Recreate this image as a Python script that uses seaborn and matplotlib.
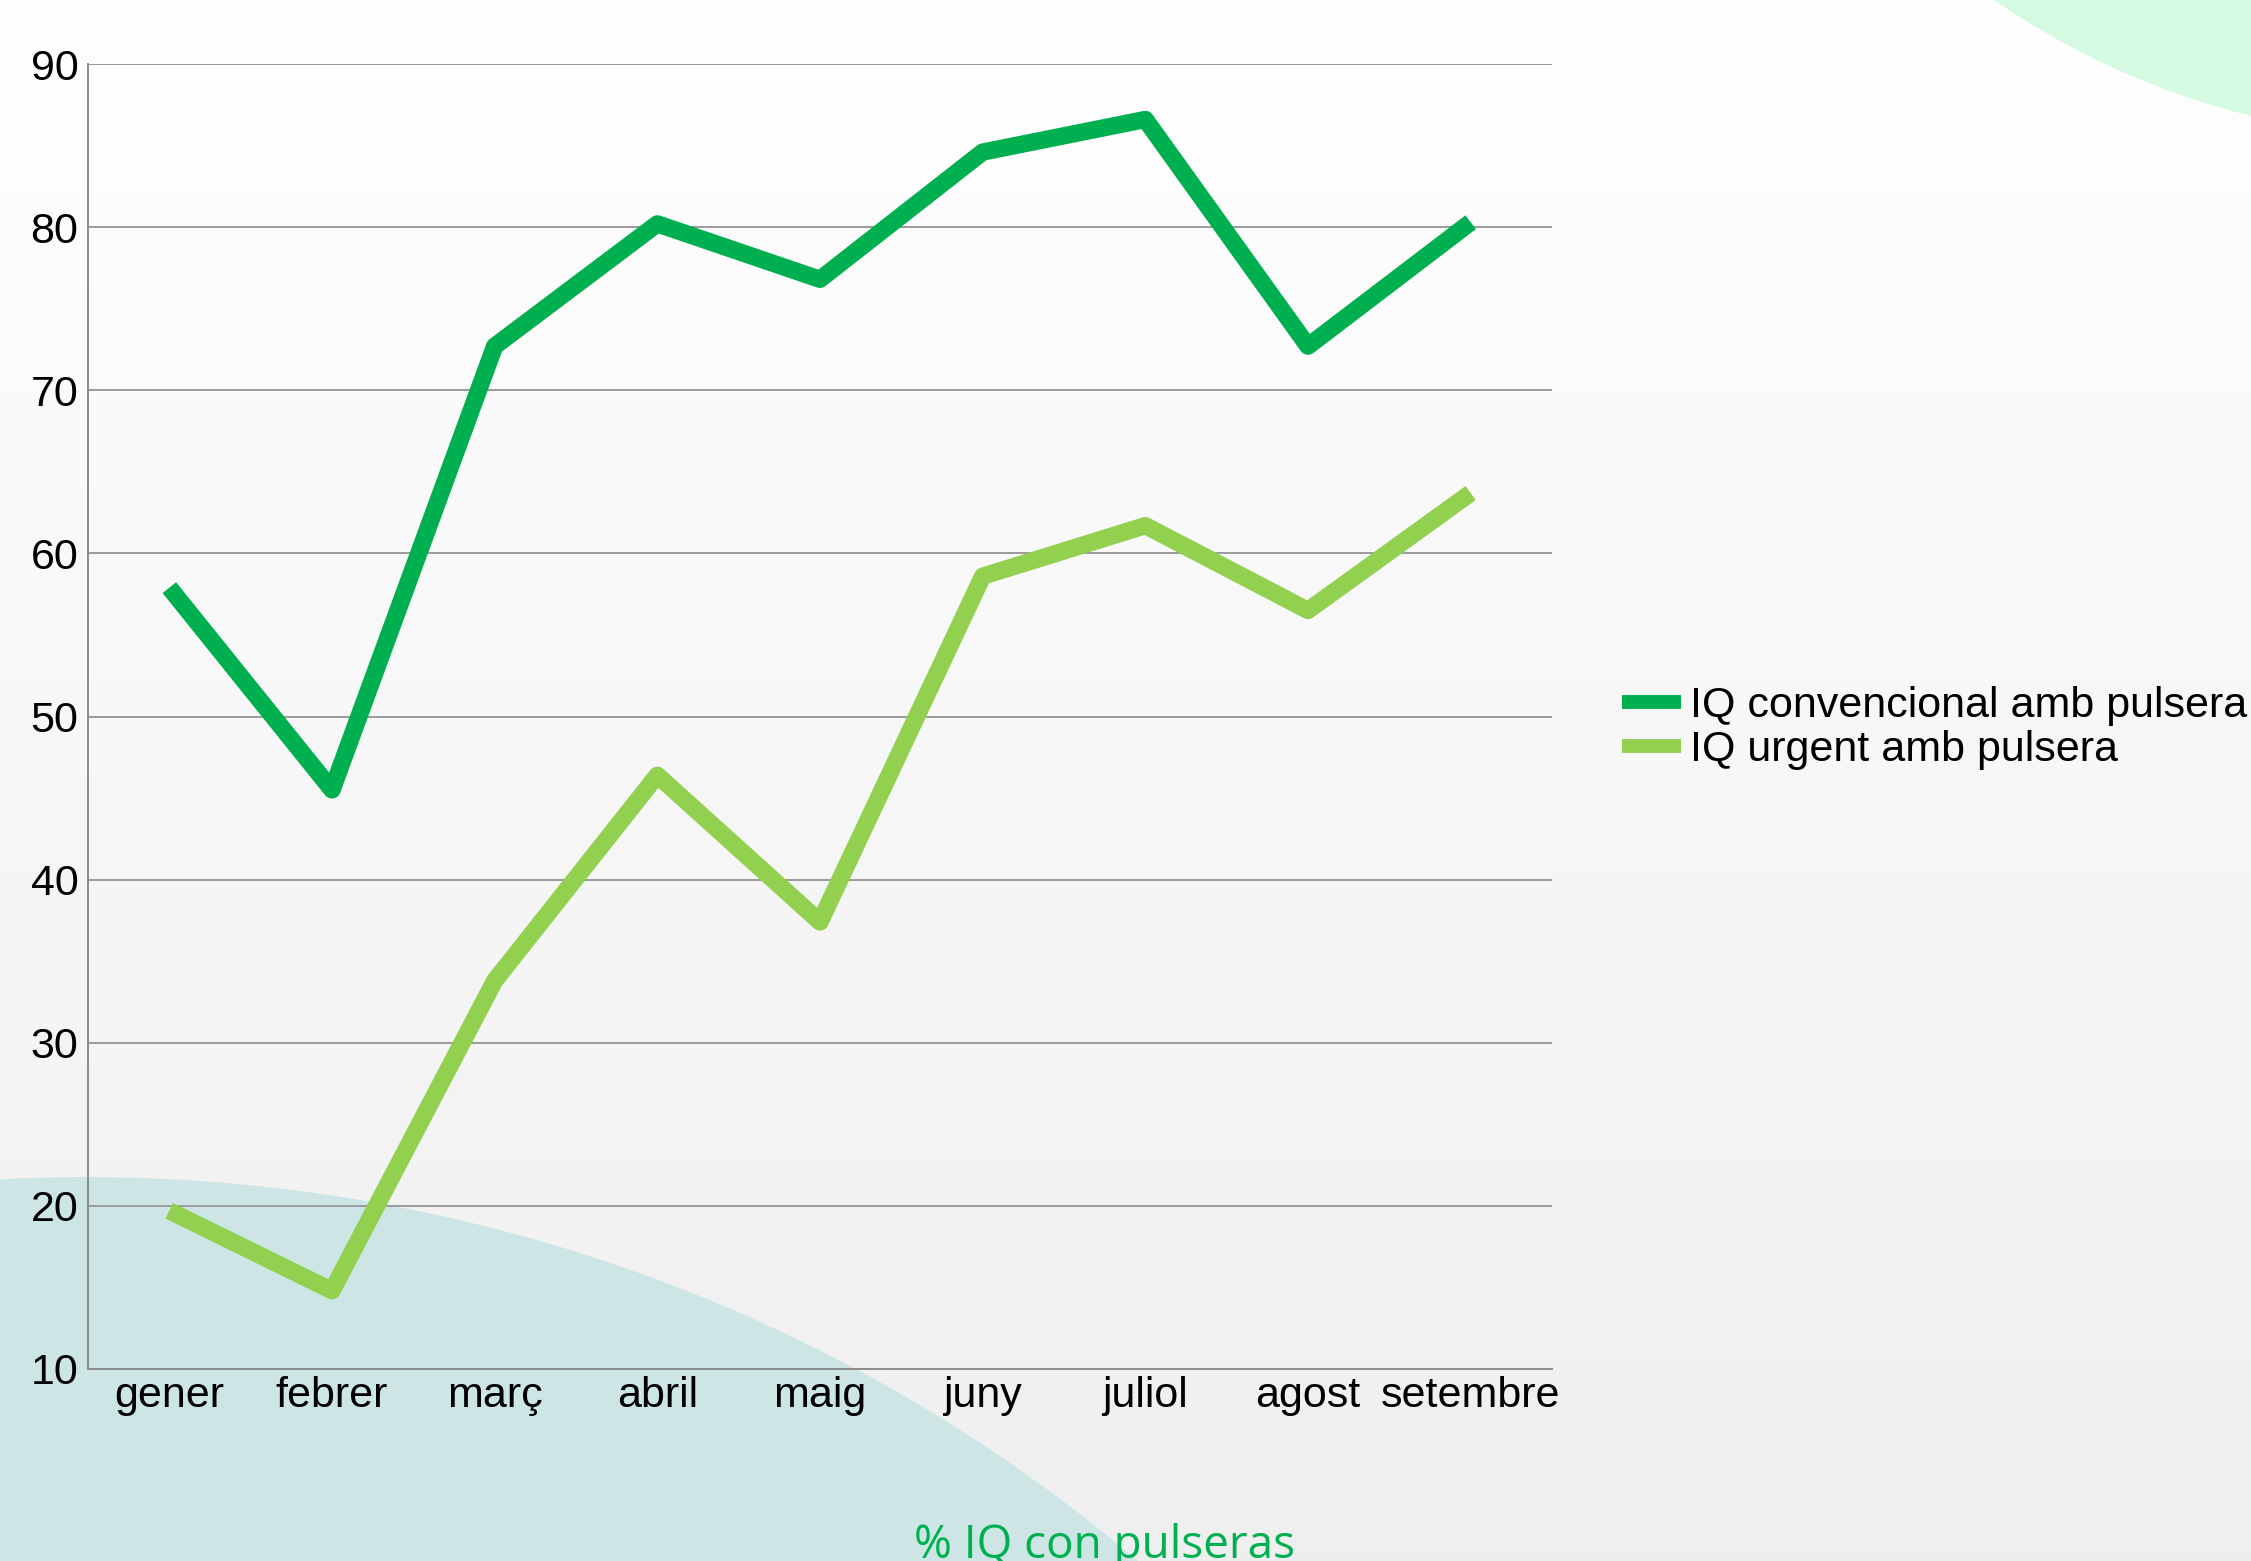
import matplotlib
matplotlib.use("Agg")
import matplotlib.pyplot as plt
import seaborn as sns
import pandas as pd
import numpy as np
from matplotlib.patches import Ellipse, Circle

# Dades: % IQ amb pulsera per mes
mesos = ["gener", "febrer", "març", "abril", "maig", "juny", "juliol", "agost", "setembre"]
convencional = [57.9, 45.5, 72.7, 80.2, 76.8, 84.6, 86.6, 72.7, 80.3]
urgent = [19.7, 14.8, 33.8, 46.4, 37.4, 58.6, 61.7, 56.5, 63.7]
series = ["IQ convencional amb pulsera", "IQ urgent amb pulsera"]
colors = ["#00b050", "#92d050"]
yticks = [10, 20, 30, 40, 50, 60, 70, 80, 90]

df = pd.DataFrame({
    "mes": mesos * 2,
    "valor": convencional + urgent,
    "serie": [series[0]] * len(mesos) + [series[1]] * len(mesos),
})

sns.set_style("white")
plt.rcParams["font.family"] = ["Liberation Sans", "DejaVu Sans"]

W, H = 2251, 1561
fig = plt.figure(figsize=(W / 100, H / 100), dpi=100)

# fons: degradat + formes decoratives
bg = fig.add_axes([0, 0, 1, 1], zorder=-5)
grad = np.linspace(1.0, 0.937, 256).reshape(-1, 1)
bg.imshow(np.dstack([grad] * 3), extent=[0, W, H, 0], aspect="auto")
bg.add_patch(Ellipse((86, 2713), 2 * 1590, 2 * 1536, color="#cde6e5", lw=0))
bg.add_patch(Circle((2440, -646), 785, color="#d4fbe2", lw=0))
bg.set_xlim(0, W)
bg.set_ylim(H, 0)
bg.axis("off")

ax = fig.add_axes([88 / W, 1 - 1369 / H, (1552 - 88) / W, (1369 - 64) / H])
ax.set_facecolor("none")

sns.lineplot(data=df, x="mes", y="valor", hue="serie", palette=colors,
             sort=False, ax=ax)
for ln in ax.lines:
    ln.set_linewidth(12.5)
    ln.set_solid_joinstyle("round")
    ln.set_solid_capstyle("butt")

ax.set_xlim(-0.5, len(mesos) - 0.5)
ax.set_ylim(10, 90)
ax.set_yticks(yticks)
ax.yaxis.grid(True, color="#9a9a9a", linewidth=1.4)
ax.set_axisbelow(True)
for s in ["top", "right"]:
    ax.spines[s].set_visible(False)
for s in ["left", "bottom"]:
    ax.spines[s].set_color("#8c8c8c")
    ax.spines[s].set_linewidth(1.4)
ax.tick_params(axis="both", length=0, labelsize=31, colors="black")
ax.tick_params(axis="y", pad=7)
ax.tick_params(axis="x", pad=5)
ax.set_xlabel("")
ax.set_ylabel("")

handles, labels = ax.get_legend_handles_labels()
ax.get_legend().remove()
leg = fig.legend(handles, labels, loc="center left",
                 bbox_to_anchor=(1622 / W, 1 - 728 / H), frameon=False,
                 fontsize=31, handlelength=1.38, handletextpad=0.2,
                 labelspacing=0.08, borderpad=0, borderaxespad=0,
                 labelcolor="black")
for h in leg.legend_handles:
    h.set_linewidth(10)
    h.set_solid_capstyle("butt")

fig.text(1105 / W, 1 - 1558 / H, "% IQ con pulseras", color="#00b050",
         fontsize=33, family="Open Sans", ha="center", va="baseline")

fig.savefig("out.png", dpi=100)
